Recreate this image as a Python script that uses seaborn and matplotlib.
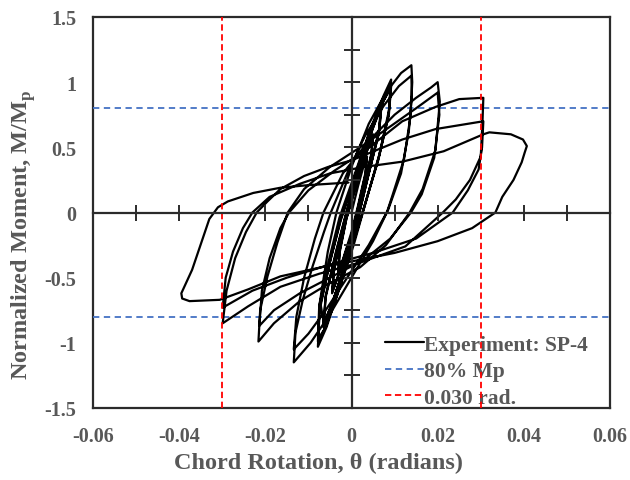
import matplotlib
matplotlib.use("Agg")
import matplotlib.pyplot as plt
import seaborn as sns
import pandas as pd

# ---- data (chord rotation [rad], normalized moment M/Mp) ----
rot_c1 = [0, 0.0015, 0.003, 0.0035, 0.0032, 0.0015, 0, -0.002, -0.003]
mom_c1 = [0, 0.2, 0.38, 0.42, 0.3, 0.05, -0.15, -0.36, -0.45]
rot_c2 = [-0.0027, -0.0012, 0.0005, 0.002, 0.0036, 0.0033, 0.0016, 0, -0.0018, -0.0031]
mom_c2 = [-0.3, -0.05, 0.15, 0.3, 0.43, 0.3, 0.05, -0.17, -0.35, -0.46]
rot_c3 = [-0.0028, -0.0012, 0.001, 0.003, 0.005, 0.0046, 0.0025, 0.0005, -0.002, -0.0045]
mom_c3 = [-0.3, -0.05, 0.2, 0.42, 0.6, 0.45, 0.15, -0.12, -0.38, -0.62]
rot_c4 = [-0.0041, -0.0022, -0.0002, 0.0025, 0.005, 0.0046, 0.0025, 0.0004, -0.002, -0.0045]
mom_c4 = [-0.45, -0.15, 0.1, 0.38, 0.59, 0.44, 0.14, -0.13, -0.39, -0.61]
rot_c5 = [-0.004, -0.002, 0.0005, 0.0035, 0.007, 0.0065, 0.004, 0.0015, -0.001, -0.004, -0.0065]
mom_c5 = [-0.42, -0.12, 0.18, 0.5, 0.85, 0.65, 0.3, -0.05, -0.35, -0.65, -0.88]
rot_c6 = [-0.006, -0.0035, -0.001, 0.002, 0.0045, 0.007, 0.0064, 0.0038, 0.0012, -0.0015, -0.0043, -0.0065]
mom_c6 = [-0.65, -0.3, 0.02, 0.35, 0.62, 0.83, 0.62, 0.27, -0.08, -0.4, -0.68, -0.86]
rot_c6b = [-0.006, -0.0036, -0.0012, 0.0018, 0.0044, 0.0068, 0.0063, 0.0036, 0.001, -0.0017, -0.0044, -0.0064]
mom_c6b = [-0.64, -0.3, 0.0, 0.33, 0.6, 0.8, 0.6, 0.25, -0.1, -0.42, -0.69, -0.85]
rot_c7 = [-0.0072, -0.0048, -0.0025, 0.001, 0.0045, 0.0075, 0.0092, 0.0088, 0.0065, 0.0035, 0.0005, -0.003, -0.0058, -0.0078]
mom_c7 = [-0.7, -0.35, -0.05, 0.3, 0.65, 0.9, 1.02, 0.8, 0.45, 0.1, -0.25, -0.6, -0.88, -1.03]
rot_c8 = [-0.0074, -0.005, -0.0025, 0.001, 0.0045, 0.0075, 0.0092, 0.0087, 0.0063, 0.0032, 0, -0.0032, -0.006, -0.0078]
mom_c8 = [-0.75, -0.38, -0.06, 0.28, 0.62, 0.86, 0.97, 0.76, 0.42, 0.07, -0.28, -0.62, -0.88, -0.99]
rot_c8b = [-0.0075, -0.0052, -0.0028, 0.0008, 0.0043, 0.0073, 0.009, 0.0086, 0.0062, 0.003, -0.0002, -0.0034, -0.006, -0.0077]
mom_c8b = [-0.72, -0.36, -0.04, 0.3, 0.63, 0.85, 0.95, 0.74, 0.4, 0.05, -0.3, -0.64, -0.88, -0.97]
rot_c9 = [-0.0074, -0.0055, -0.0035, 0, 0.004, 0.008, 0.0115, 0.0139, 0.0141, 0.0137, 0.0122, 0.0094,
          0.0082, 0.005, 0, -0.005, -0.0095, -0.0134]
mom_c9 = [-0.7, -0.3, 0, 0.35, 0.68, 0.92, 1.07, 1.13, 1.0, 0.74, 0.41, 0.12,
          0, -0.22, -0.5, -0.78, -1.0, -1.15]
rot_c10 = [-0.013, -0.0113, -0.009, -0.0064, -0.0048, -0.001, 0.003, 0.0075, 0.011, 0.0139, 0.014, 0.0133,
           0.0115, 0.0085, 0.004, -0.001, -0.006, -0.01, -0.0134]
mom_c10 = [-0.92, -0.67, -0.41, -0.15, 0, 0.3, 0.58, 0.82, 0.97, 1.05, 0.9, 0.62,
           0.3, 0.02, -0.25, -0.5, -0.75, -0.93, -1.05]
rot_c11 = [-0.0128, -0.011, -0.0085, -0.0065, -0.002, 0.004, 0.01, 0.015, 0.0185, 0.02, 0.0205, 0.0195,
           0.0165, 0.0135, 0.008, 0.002, -0.006, -0.012, -0.018, -0.0216]
mom_c11 = [-0.8, -0.5, -0.2, 0, 0.3, 0.55, 0.75, 0.88, 0.96, 1.0, 0.85, 0.48,
           0.18, 0, -0.25, -0.42, -0.56, -0.68, -0.85, -0.99]
rot_c12 = [-0.0212, -0.0195, -0.0172, -0.0148, -0.011, -0.005, 0.002, 0.009, 0.015, 0.02, 0.0204, 0.0192,
           0.0163, 0.0138, 0.009, 0.003, -0.005, -0.012, -0.018, -0.0214]
mom_c12 = [-0.75, -0.49, -0.23, 0, 0.18, 0.35, 0.5, 0.66, 0.8, 0.92, 0.75, 0.42,
           0.14, 0, -0.2, -0.36, -0.5, -0.62, -0.75, -0.87]
rot_c13 = [-0.0208, -0.019, -0.0165, -0.0145, -0.01, -0.004, 0.003, 0.0118, 0.0195, 0.025, 0.0306, 0.0304,
           0.03, 0.0275, 0.0242, 0.0212, 0.0125, 0.0024, -0.0075, -0.0165, -0.024, -0.0299]
mom_c13 = [-0.6, -0.35, -0.12, 0, 0.17, 0.32, 0.47, 0.7, 0.81, 0.87, 0.88, 0.69,
           0.43, 0.25, 0.1, 0, -0.26, -0.38, -0.47, -0.57, -0.72, -0.85]
rot_c14 = [-0.029, -0.027, -0.0245, -0.022, -0.0195, -0.0165, -0.011, -0.0054, 0, 0.0118, 0.0195, 0.0306,
           0.0303, 0.0295, 0.027, 0.0235, 0.015, 0.005, -0.005, -0.015, -0.023, -0.0299]
mom_c14 = [-0.6, -0.35, -0.15, 0, 0.085, 0.18, 0.28, 0.35, 0.4, 0.56, 0.64, 0.7,
           0.5, 0.33, 0.17, 0, -0.2, -0.31, -0.4, -0.5, -0.6, -0.73]
rot_c15 = [-0.0292, -0.0275, -0.0252, -0.023, -0.019, -0.012, -0.005, 0.003, 0.0118, 0.0214, 0.0306, 0.032,
           0.037, 0.0398, 0.0407, 0.0402, 0.0395, 0.0376, 0.035, 0.0334, 0.028, 0.02, 0.01, 0.0024,
           -0.007, -0.0165, -0.024, -0.0306, -0.0376, -0.0393, -0.0395]
mom_c15 = [-0.5, -0.3, -0.12, 0, 0.12, 0.22, 0.3, 0.35, 0.39, 0.47, 0.6, 0.615,
           0.6, 0.56, 0.51, 0.46, 0.385, 0.25, 0.12, 0, -0.12, -0.22, -0.31, -0.36,
           -0.42, -0.49, -0.59, -0.67, -0.68, -0.66, -0.62]
rot_c16 = [-0.037, -0.033, -0.031, -0.0287, -0.0228, -0.0165, -0.01, -0.0007]
mom_c16 = [-0.44, -0.05, 0.04, 0.085, 0.15, 0.19, 0.21, 0.23]

mp80_levels = [0.8, -0.8]
rad030_levels = [0.03, -0.03]
x_ticks = [-0.06, -0.04, -0.02, 0, 0.02, 0.04, 0.06]
x_tick_labels = ["-0.06", "-0.04", "-0.02", "0", "0.02", "0.04", "0.06"]
y_ticks = [-1.5, -1, -0.5, 0, 0.5, 1, 1.5]
y_tick_labels = ["-1.5", "-1", "-0.5", "0", "0.5", "1", "1.5"]
x_minor_center = [-0.05, -0.04, -0.02, -0.01, 0.01, 0.02, 0.04, 0.05]
y_minor_center = [-1.25, -1.0, -0.75, -0.5, -0.25, 0.25, 0.5, 0.75, 1.0, 1.25]

rot_all = (rot_c1 + rot_c2 + rot_c3 + rot_c4 + rot_c5 + rot_c6 + rot_c6b + rot_c7 + rot_c8 + rot_c8b
           + rot_c9 + rot_c10 + rot_c11 + rot_c12 + rot_c13 + rot_c14 + rot_c15 + rot_c16)
mom_all = (mom_c1 + mom_c2 + mom_c3 + mom_c4 + mom_c5 + mom_c6 + mom_c6b + mom_c7 + mom_c8 + mom_c8b
           + mom_c9 + mom_c10 + mom_c11 + mom_c12 + mom_c13 + mom_c14 + mom_c15 + mom_c16)
df = pd.DataFrame({"rot": rot_all, "mom": mom_all})

# ---- style ----
sns.set_theme(style="white")
plt.rcParams["font.family"] = ["Liberation Serif", "DejaVu Serif"]
plt.rcParams["font.weight"] = "bold"
plt.rcParams["mathtext.fontset"] = "custom"
plt.rcParams["mathtext.rm"] = "Liberation Serif:bold"
text_col = "#585858"
axis_col = "#2b2b2b"

fig = plt.figure(figsize=(6.3, 4.81), dpi=100)
pos = [93 / 630, 1 - 409 / 481, (610 - 93) / 630, (409 - 18) / 481]
ax = fig.add_axes(pos)

sns.lineplot(data=df, x="rot", y="mom", sort=False, estimator=None, color="black",
             linewidth=1.6, ax=ax, label="Experiment: SP-4", zorder=5)
for i, lv in enumerate(mp80_levels):
    ax.axhline(lv, color="#4472C4", linestyle=(0, (3.5, 2.5)), linewidth=1.3,
               label="80% Mp" if i == 0 else None, zorder=3)
for i, lv in enumerate(rad030_levels):
    ax.axvline(lv, color="#FF0000", linestyle=(0, (3.5, 2.0)), linewidth=1.3,
               label="0.030 rad." if i == 0 else None, zorder=6)

ax.set_xlim(-0.06, 0.06)
ax.set_ylim(-1.5, 1.5)
ax.set_xticks(x_ticks)
ax.set_xticklabels(x_tick_labels)
ax.set_yticks(y_ticks)
ax.set_yticklabels(y_tick_labels)
ax.tick_params(length=0, labelsize=14.5, labelcolor=text_col)
ax.tick_params(axis="x", pad=13)
ax.tick_params(axis="y", pad=12)
for lab in ax.get_xticklabels() + ax.get_yticklabels():
    lab.set_fontweight("bold")
ax.set_xlabel("Chord Rotation, θ (radians)", fontsize=17.5, color=text_col, fontweight="bold")
ax.set_ylabel(r"Normalized Moment, M/M$_\mathrm{p}$", fontsize=17.5, color=text_col,
              fontweight="bold")
ax.xaxis.set_label_coords(0.437, -0.112)
ax.yaxis.set_label_coords(-0.106, 0.445)
for sp in ax.spines.values():
    sp.set_color(axis_col)
    sp.set_linewidth(1.6)

leg = ax.legend(loc="lower left", bbox_to_anchor=(0.56, -0.005), frameon=False,
                handlelength=1.85, handletextpad=0.0, fontsize=15.5, labelspacing=0.3,
                borderpad=0.1, borderaxespad=0)
for t in leg.get_texts():
    t.set_color(text_col)
    t.set_fontweight("bold")
leg.set_zorder(4)

# centre axes (through the origin) with crossing ticks
ax2 = fig.add_axes(pos)
ax2.patch.set_alpha(0)
ax2.set_xlim(-0.06, 0.06)
ax2.set_ylim(-1.5, 1.5)
ax2.spines["top"].set_visible(False)
ax2.spines["right"].set_visible(False)
ax2.spines["left"].set_position(("data", 0))
ax2.spines["bottom"].set_position(("data", 0))
for s in ("left", "bottom"):
    ax2.spines[s].set_color(axis_col)
    ax2.spines[s].set_linewidth(1.6)
ax2.set_xticks(x_minor_center)
ax2.set_yticks(y_minor_center)
ax2.tick_params(direction="inout", length=12, width=1.4, color=axis_col,
                labelleft=False, labelbottom=False, left=True, bottom=True)

fig.savefig("out.png", dpi=100)
